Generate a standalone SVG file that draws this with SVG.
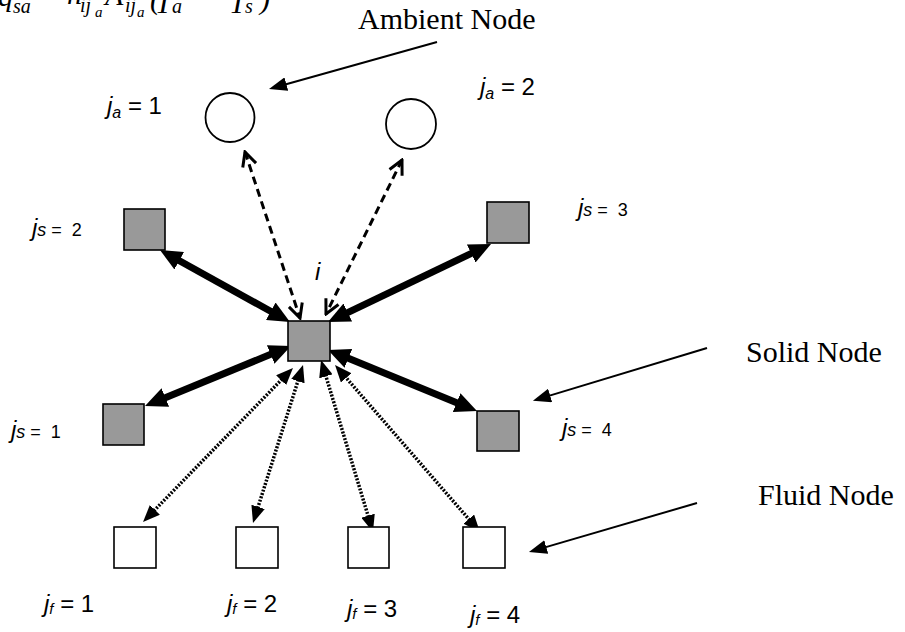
<svg xmlns="http://www.w3.org/2000/svg" width="905" height="632" viewBox="0 0 905 632">
<style>
.solid{fill:#999999;stroke:#000;stroke-width:1.6}
.fluid{fill:#fff;stroke:#000;stroke-width:1.6}
.amb{fill:#fff;stroke:#000;stroke-width:1.8}
.lbl{font-family:"Liberation Sans",Arial,sans-serif;font-size:24px;fill:#000}
.it{font-style:italic}
.big{font-family:"Liberation Serif","Times New Roman",serif;font-size:30px;fill:#000}
.eq{font-family:"Liberation Serif","Times New Roman",serif;font-style:italic;fill:#000}
.thick{stroke:#000;stroke-width:7;fill:none;marker-start:url(#tri);marker-end:url(#tri)}
.dot{stroke:#000;stroke-width:3.5;stroke-dasharray:2 1.5;fill:none;marker-start:url(#tris);marker-end:url(#tris)}
.dash{stroke:#000;stroke-width:3;stroke-dasharray:8 5;fill:none;marker-start:url(#vee);marker-end:url(#vee)}
.lead{stroke:#000;stroke-width:2;fill:none;marker-end:url(#tril)}
</style>
<defs>
<marker id="tri" markerUnits="userSpaceOnUse" viewBox="0 0 22 20" markerWidth="22" markerHeight="20" refX="6" refY="10" orient="auto-start-reverse"><path d="M0,0 L22,10 L0,20 z" fill="#000"/></marker>
<marker id="tris" markerUnits="userSpaceOnUse" viewBox="0 0 17 14" markerWidth="17" markerHeight="14" refX="5" refY="7" orient="auto-start-reverse"><path d="M0,0 L17,7 L0,14 z" fill="#000"/></marker>
<marker id="tril" markerUnits="userSpaceOnUse" viewBox="0 0 18 14" markerWidth="18" markerHeight="14" refX="4" refY="7" orient="auto"><path d="M0,0 L18,7 L0,14 z" fill="#000"/></marker>
<marker id="vee" markerUnits="userSpaceOnUse" viewBox="-16 -10 18 20" markerWidth="18" markerHeight="20" refX="0" refY="0" orient="auto-start-reverse"><path d="M-14,-7 L0,0 L-14,7" fill="none" stroke="#000" stroke-width="3"/></marker>
</defs>

<g id="formula">
<text class="eq" font-size="30" x="-2" y="6">q</text>
<text class="eq" font-size="20" x="13" y="13">sa</text>
<text class="eq" font-size="30" x="67" y="4">h</text>
<text class="eq" font-size="20" x="80" y="12">ij</text>
<text class="eq" font-size="15" x="95" y="17">a</text>
<text class="eq" font-size="30" x="105" y="5">A</text>
<text class="eq" font-size="20" x="125" y="12">ij</text>
<text class="eq" font-size="15" x="137" y="17">a</text>
<text class="eq" font-size="30" x="150" y="9" font-style="normal">(</text>
<text class="eq" font-size="30" x="155" y="13">T</text>
<text class="eq" font-size="20" x="172" y="13">a</text>
<text class="eq" font-size="30" x="229" y="13">T</text>
<text class="eq" font-size="20" x="245" y="13">s</text>
<text class="eq" font-size="30" x="260" y="9" font-style="normal">)</text>
</g>

<g id="connectors">
<path class="thick" d="M174,257.8 L276,314.2"/>
<path class="thick" d="M476.6,250.9 L342.4,315.1"/>
<path class="thick" d="M159.8,399.9 L276.2,352.1"/>
<path class="thick" d="M462.2,404.9 L342.8,356.1"/>
<path class="dot" d="M151.4,513.4 L284.6,376.6"/>
<path class="dot" d="M256.6,511.6 L299.4,376.4"/>
<path class="dot" d="M369.5,520.5 L324.5,371.5"/>
<path class="dot" d="M472.1,522.9 L342.9,374.1"/>
<path class="dash" d="M245,152 L300,318"/>
<path class="dash" d="M402,160 L326,314"/>
<path class="lead" d="M437,42 L282.5,85.2"/>
<path class="lead" d="M707,348 L546.3,396.6"/>
<path class="lead" d="M697,503 L542.4,548.1"/>
</g>

<g id="ambient-1"><circle class="amb" cx="230" cy="117.5" r="24.5"/></g>
<g id="ambient-2"><circle class="amb" cx="411" cy="124" r="25"/></g>
<g id="solid-i"><rect class="solid" x="288" y="321" width="42" height="40"/></g>
<g id="solid-2"><rect class="solid" x="124" y="209" width="41" height="41"/></g>
<g id="solid-3"><rect class="solid" x="487" y="202" width="42" height="41"/></g>
<g id="solid-1"><rect class="solid" x="103" y="404" width="41" height="41"/></g>
<g id="solid-4"><rect class="solid" x="477" y="411" width="42" height="40"/></g>
<g id="fluid-1"><rect class="fluid" x="114" y="527" width="42" height="41"/></g>
<g id="fluid-2"><rect class="fluid" x="236" y="527" width="42" height="41"/></g>
<g id="fluid-3"><rect class="fluid" x="348" y="527" width="41" height="41"/></g>
<g id="fluid-4"><rect class="fluid" x="463" y="527" width="42" height="41"/></g>

<g id="labels">
<text class="big" x="358" y="29" font-size="31">Ambient Node</text>
<text class="big" x="746" y="362">Solid Node</text>
<text class="big" x="758" y="505">Fluid Node</text>
<text class="lbl" x="107" y="114"><tspan class="it">j</tspan><tspan class="it" font-size="16" dy="4">a</tspan><tspan dy="-4"> = 1</tspan></text>
<text class="lbl" x="480" y="95"><tspan class="it">j</tspan><tspan class="it" font-size="16" dy="4">a</tspan><tspan dy="-4"> = 2</tspan></text>
<text class="lbl" x="32" y="236"><tspan class="it">j</tspan><tspan font-size="18"><tspan class="it">s</tspan> =&#160; 2</tspan></text>
<text class="lbl" x="578" y="216"><tspan class="it">j</tspan><tspan font-size="18"><tspan class="it">s</tspan> =&#160; 3</tspan></text>
<text class="lbl" x="11" y="438"><tspan class="it">j</tspan><tspan font-size="18"><tspan class="it">s</tspan> =&#160; 1</tspan></text>
<text class="lbl" x="562" y="436"><tspan class="it">j</tspan><tspan font-size="18"><tspan class="it">s</tspan> =&#160; 4</tspan></text>
<text class="lbl it" x="315" y="280">i</text>
<text class="lbl" x="44" y="612"><tspan class="it">j</tspan><tspan class="it" font-size="15" dy="2">f</tspan><tspan dy="-2"> = 1</tspan></text>
<text class="lbl" x="227" y="612"><tspan class="it">j</tspan><tspan class="it" font-size="15" dy="2">f</tspan><tspan dy="-2"> = 2</tspan></text>
<text class="lbl" x="347" y="617"><tspan class="it">j</tspan><tspan class="it" font-size="15" dy="2">f</tspan><tspan dy="-2"> = 3</tspan></text>
<text class="lbl" x="470" y="623"><tspan class="it">j</tspan><tspan class="it" font-size="15" dy="2">f</tspan><tspan dy="-2"> = 4</tspan></text>
</g>
</svg>
